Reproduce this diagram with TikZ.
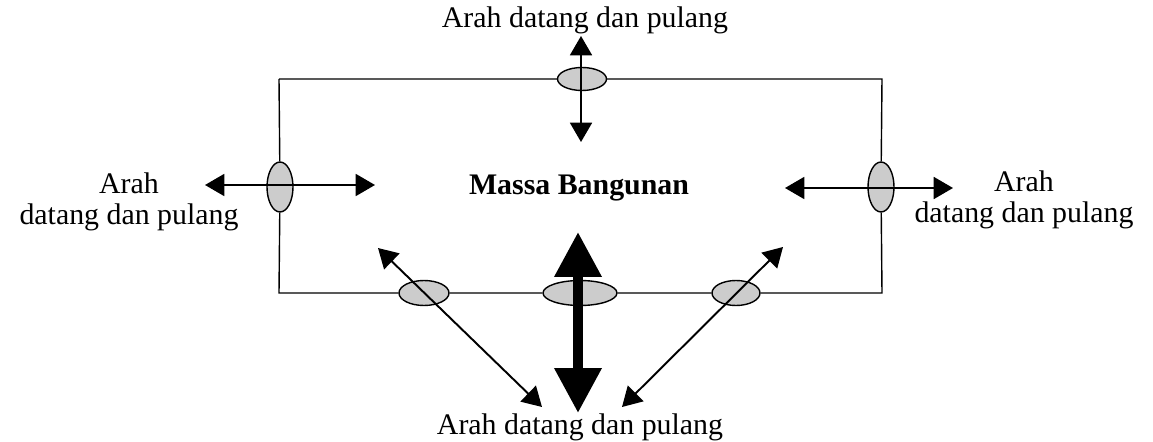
\documentclass[tikz,border=0pt]{standalone}
\usepackage{fontspec}
\setmainfont{Liberation Serif}
\usetikzlibrary{shapes.geometric,arrows.meta}

\begin{document}
\begin{tikzpicture}[x=0.02cm,y=-0.02cm,
  gate/.style={ellipse,draw,line width=0.8pt,fill=gray!40,inner sep=0pt},
  hgate/.style={gate,minimum width=0.98cm,minimum height=0.46cm},
  vgate/.style={gate,minimum width=0.52cm,minimum height=1cm},
  arw/.style={{Triangle[length=11pt,width=12.5pt]}-{Triangle[length=11pt,width=12.5pt]},line width=1.1pt},
  bigarw/.style={{Triangle[length=0.9cm,width=0.9cm]}-{Triangle[length=0.9cm,width=0.9cm]},line width=5.7pt},
  lbl/.style={font=\fontsize{17}{18}\selectfont,align=center,inner sep=0pt}]
  \useasboundingbox (0,0) rectangle (1153,442);

  % corners of the site
  \coordinate (tl) at (279,79);
  \coordinate (tr) at (882,79);
  \coordinate (br) at (882,293);
  \coordinate (bl) at (279,293);

  % entrances
  \node[hgate] (gtop) at (582,79) {};
  \node[vgate] (gleft) at (280,187) {};
  \node[vgate] (gright) at (881,187) {};
  \node[hgate,minimum width=1cm,minimum height=0.5cm] (gbl) at (424,293) {};
  \node[hgate,minimum width=1.48cm,minimum height=0.5cm] (gbm) at (580,293) {};
  \node[hgate,minimum width=0.96cm,minimum height=0.5cm] (gbr) at (736,293) {};

  \draw[line width=0.8pt] (tl) -- (gtop) -- (tr) -- (gright) -- (br) -- (gbr) -- (gbm) -- (gbl) -- (bl) -- (gleft) -- (tl);

  % labels
  \node[lbl,anchor=base] (ttop) at (585,28) {Arah datang dan pulang};
  \node[lbl,anchor=base] (tbot) at (580,434) {Arah datang dan pulang};
  \node[lbl,anchor=base,font=\fontsize{17}{18}\selectfont\bfseries] (massa) at (579,195) {Massa Bangunan};
  \node[lbl,anchor=base] (tleft) at (129,225) {Arah\\datang dan pulang};
  \node[lbl,anchor=base] (tright) at (1024,223) {Arah\\datang dan pulang};

  % arrow ends
  \coordinate (a1) at (581,36);
  \coordinate (a2) at (581,142);
  \coordinate (b1) at (205,185);
  \coordinate (b2) at (375,185);
  \coordinate (c1) at (785,188);
  \coordinate (c2) at (953,188);
  \coordinate (d1) at (578,232);
  \coordinate (d2) at (578,413);
  \coordinate (e1) at (378,248);
  \coordinate (e2) at (542,407);
  \coordinate (f1) at (783,247);
  \coordinate (f2) at (622,407);

  \draw[arw] (a1) -- (a2);
  \draw[arw] (b1) -- (b2);
  \draw[arw] (c1) -- (c2);
  \draw[arw] (e1) -- (e2);
  \draw[arw] (f1) -- (f2);
  \draw[bigarw] (d1) -- (d2);
\end{tikzpicture}
\end{document}
